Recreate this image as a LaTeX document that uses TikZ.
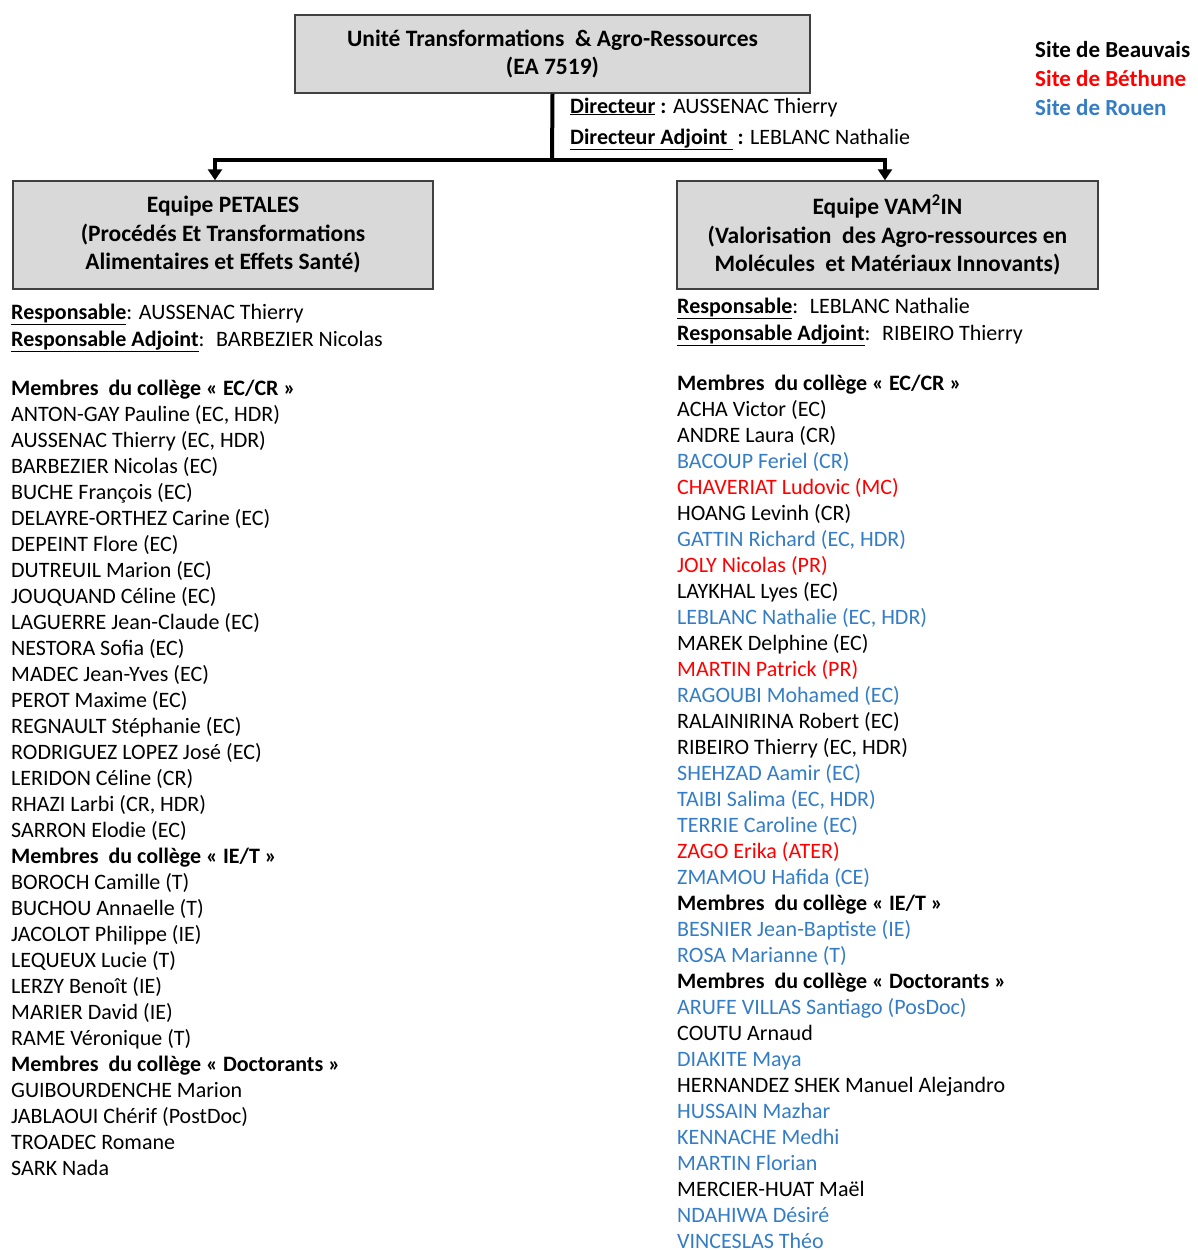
\documentclass[tikz,border=0pt]{standalone}
\usepackage{fontspec}
\setmainfont{Carlito}
\usetikzlibrary{arrows.meta}

\definecolor{boxgray}{RGB}{217,217,217}
\definecolor{rouen}{RGB}{52,125,196}
\definecolor{bethune}{RGB}{255,0,0}

\tikzset{
  teambox/.style={draw=black!75, line width=1.5pt, fill=boxgray, align=center,
    font=\fontsize{23.5}{28.5}\selectfont\bfseries},
  link/.style={line width=4pt},
  down/.style={-{Triangle[width=14pt,length=11pt]}},
  txt/.style={anchor=base west, inner sep=0pt},
  sitename/.style={txt, font=\fontsize{23}{26}\selectfont\bfseries},
  memberlist/.style={anchor=north west, inner sep=0pt, align=left,
    font=\fontsize{22}{26}\selectfont},
}

\begin{document}
\begin{tikzpicture}[x=1pt, y=-1pt, font=\fontsize{22}{26}\selectfont]
  \useasboundingbox (0,0) rectangle (1198,1250);

  % unite
  \node[teambox, minimum width=515pt, minimum height=78pt] (unit) at (552.5,54)
    {Unité Transformations \ \& Agro-Ressources\\(EA 7519)};
  \node[txt] (dir) at (570,113) {\underline{\textbf{Directeur}}\textbf{ :} AUSSENAC Thierry};
  \node[txt] (dirad) at (570,144) {\underline{\textbf{Directeur Adjoint\ }}\textbf{ :} LEBLANC Nathalie};

  % legende des sites
  \node[sitename] (beauvais) at (1035,57) {Site de Beauvais};
  \node[sitename, text=bethune] (bethune) at (1035,86) {Site de Béthune};
  \node[sitename, text=rouen] (rouen) at (1035,115) {Site de Rouen};

  % equipes
  \node[teambox, minimum width=420pt, minimum height=108pt] (petales) at (223,235)
    {Equipe PETALES\\(Procédés Et Transformations\\Alimentaires et Effets Santé)};
  \node[teambox, minimum width=421pt, minimum height=108pt] (vamin) at (887.5,235)
    {Equipe VAM\textsuperscript{2}IN\\(Valorisation \ des Agro-ressources en\\Molécules \ et Matériaux Innovants)};

  % liaisons
  \coordinate (split) at (552,160);
  \coordinate (petin) at (215,160);
  \coordinate (vamtop) at (885,160);
  \draw[link] (unit.south) -- (split);
  \draw[link, down] (split) -- (petin) -- (petin |- petales.north);
  \draw[link, down] (split) -- (vamtop) -- (vamtop |- vamin.north);

  % PETALES
  \node[txt] (petresp) at (11,319) {\underline{\textbf{Responsable}}: AUSSENAC Thierry};
  \node[txt] (petadj) at (11,346) {\underline{\textbf{Responsable Adjoint}}: \ BARBEZIER Nicolas};
  \node[memberlist] (petlist) at (11,380) {%
    \textbf{Membres \ du collège « EC/CR »}\\
    ANTON-GAY Pauline (EC, HDR)\\
    AUSSENAC Thierry (EC, HDR)\\
    BARBEZIER Nicolas (EC)\\
    BUCHE François (EC)\\
    DELAYRE-ORTHEZ Carine (EC)\\
    DEPEINT Flore (EC)\\
    DUTREUIL Marion (EC)\\
    JOUQUAND Céline (EC)\\
    LAGUERRE Jean-Claude (EC)\\
    NESTORA Sofia (EC)\\
    MADEC Jean-Yves (EC)\\
    PEROT Maxime (EC)\\
    REGNAULT Stéphanie (EC)\\
    RODRIGUEZ LOPEZ José (EC)\\
    LERIDON Céline (CR)\\
    RHAZI Larbi (CR, HDR)\\
    SARRON Elodie (EC)\\
    \textbf{Membres \ du collège « IE/T »}\\
    BOROCH Camille (T)\\
    BUCHOU Annaelle (T)\\
    JACOLOT Philippe (IE)\\
    LEQUEUX Lucie (T)\\
    LERZY Benoît (IE)\\
    MARIER David (IE)\\
    RAME Véronique (T)\\
    \textbf{Membres \ du collège « Doctorants »}\\
    GUIBOURDENCHE Marion\\
    JABLAOUI Chérif (PostDoc)\\
    TROADEC Romane\\
    SARK Nada};

  % VAM2IN
  \node[txt] (vamresp) at (677,313) {\underline{\textbf{Responsable}}: \ LEBLANC Nathalie};
  \node[txt] (vamadj) at (677,340) {\underline{\textbf{Responsable Adjoint}}: \ RIBEIRO Thierry};
  \node[memberlist] (vamlist) at (677,375) {%
    \textbf{Membres \ du collège « EC/CR »}\\
    ACHA Victor (EC)\\
    ANDRE Laura (CR)\\
    \textcolor{rouen}{BACOUP Feriel (CR)}\\
    \textcolor{bethune}{CHAVERIAT Ludovic (MC)}\\
    HOANG Levinh (CR)\\
    \textcolor{rouen}{GATTIN Richard (EC, HDR)}\\
    \textcolor{bethune}{JOLY Nicolas (PR)}\\
    LAYKHAL Lyes (EC)\\
    \textcolor{rouen}{LEBLANC Nathalie (EC, HDR)}\\
    MAREK Delphine (EC)\\
    \textcolor{bethune}{MARTIN Patrick (PR)}\\
    \textcolor{rouen}{RAGOUBI Mohamed (EC)}\\
    RALAINIRINA Robert (EC)\\
    RIBEIRO Thierry (EC, HDR)\\
    \textcolor{rouen}{SHEHZAD Aamir (EC)}\\
    \textcolor{rouen}{TAIBI Salima (EC, HDR)}\\
    \textcolor{rouen}{TERRIE Caroline (EC)}\\
    \textcolor{bethune}{ZAGO Erika (ATER)}\\
    \textcolor{rouen}{ZMAMOU Hafida (CE)}\\
    \textbf{Membres \ du collège « IE/T »}\\
    \textcolor{rouen}{BESNIER Jean-Baptiste (IE)}\\
    \textcolor{rouen}{ROSA Marianne (T)}\\
    \textbf{Membres \ du collège « Doctorants »}\\
    \textcolor{rouen}{ARUFE VILLAS Santiago (PosDoc)}\\
    COUTU Arnaud\\
    \textcolor{rouen}{DIAKITE Maya}\\
    HERNANDEZ SHEK Manuel Alejandro\\
    \textcolor{rouen}{HUSSAIN Mazhar}\\
    \textcolor{rouen}{KENNACHE Medhi}\\
    \textcolor{rouen}{MARTIN Florian}\\
    MERCIER-HUAT Maël\\
    \textcolor{rouen}{NDAHIWA Désiré}\\
    \textcolor{rouen}{VINCESLAS Théo}};
\end{tikzpicture}
\end{document}
